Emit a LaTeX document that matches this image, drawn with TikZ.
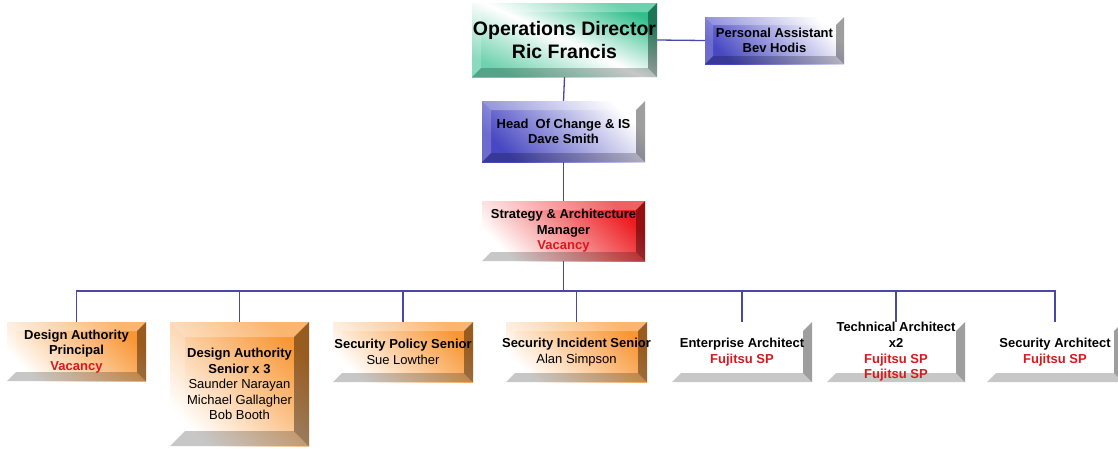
\documentclass[tikz,border=0pt]{standalone}
\usepackage{fontspec}
\setmainfont{Liberation Sans}
\definecolor{linkblue}{RGB}{72,72,170}
\definecolor{orgface}{RGB}{248,150,52}
\definecolor{blueface}{RGB}{72,72,195}
\definecolor{redface}{RGB}{236,28,32}
\definecolor{greenface}{RGB}{48,190,140}
\definecolor{vacred}{RGB}{215,25,30}
\newcommand{\vacant}[1]{\textcolor{vacred}{\textbf{#1}}}

\begin{document}
\begin{tikzpicture}[x=1pt, y=-1pt,
  bevel/.store in=\bev, bevel=9,
  box/.style 2 args={shape=rectangle, inner sep=0pt, minimum width=#1, minimum height=#2,
    path picture={
      \fill[white, opacity=.3] (path picture bounding box.north west) -- ++(\bev pt,-\bev pt)
        -- ([shift={(-\bev pt,-\bev pt)}]path picture bounding box.north east) -- (path picture bounding box.north east) -- cycle;
      \fill[white, opacity=.2] (path picture bounding box.north west) -- ++(\bev pt,-\bev pt)
        -- ([shift={(\bev pt,\bev pt)}]path picture bounding box.south west) -- (path picture bounding box.south west) -- cycle;
      \fill[black, opacity=.38] (path picture bounding box.north east) -- ++(-\bev pt,-\bev pt)
        -- ([shift={(-\bev pt,\bev pt)}]path picture bounding box.south east) -- (path picture bounding box.south east) -- cycle;
      \fill[black, opacity=.22] (path picture bounding box.south west) -- ++(\bev pt,\bev pt)
        -- ([shift={(-\bev pt,\bev pt)}]path picture bounding box.south east) -- (path picture bounding box.south east) -- cycle;
    }},
  boxtext/.style={align=center, inner sep=0pt, font=\fontsize{13}{15.6}\selectfont},
  greenbox/.style={top color=greenface, bottom color=greenface!70, middle color=white, shading angle=-25},
  bluebox/.style={top color=white, bottom color=blueface, shading angle=-45},
  redbox/.style={top color=redface, bottom color=white, shading angle=-45},
  orangebox/.style={top color=orgface, bottom color=white, shading angle=-45},
  whitebox/.style={fill=white},
  link/.style={draw=linkblue, line width=1.3pt}]
  \useasboundingbox (0,0) rectangle (1118,448);

  \node (ops) at (564.5,40) [box={185pt}{74pt}, greenbox,
    label={[boxtext, font=\fontsize{19.5}{23}\selectfont\bfseries]center:{Operations Director\\Ric Francis}}] {};
  \node (pa) at (774.5,40.5) [box={139pt}{47pt}, bluebox, bevel=8,
    label={[boxtext]center:{\textbf{Personal Assistant}\\\textbf{Bev Hodis}}}] {};
  \node (head) at (563.5,131.5) [box={163pt}{61pt}, bluebox,
    label={[boxtext]center:{\textbf{Head~ Of Change \& IS}\\\textbf{Dave Smith}}}] {};
  \node (strat) at (563.5,231) [box={163pt}{60pt}, redbox,
    label={[boxtext]center:{\textbf{Strategy \& Architecture}\\\textbf{Manager}\\\vacant{Vacancy}}}] {};

  \node (dap) at (76.5,351.5) [box={139pt}{59pt}, orangebox,
    label={[boxtext]center:{\textbf{Design Authority}\\\textbf{Principal}\\\vacant{Vacancy}}}] {};
  \node (das) at (239.5,384) [box={139pt}{124pt}, orangebox, bevel=15,
    label={[boxtext]center:{\textbf{Design Authority}\\\textbf{Senior x 3}\\Saunder Narayan\\Michael Gallagher\\Bob Booth}}] {};
  \node (spol) at (403,352) [box={140pt}{60pt}, orangebox,
    label={[boxtext]center:{\textbf{Security Policy Senior}\\Sue Lowther}}] {};
  \node (sinc) at (576.5,352) [box={141pt}{60pt}, orangebox,
    label={[boxtext]center:{\textbf{Security Incident Senior}\\Alan Simpson}}] {};
  \node (ent) at (742,352) [box={140pt}{60pt}, whitebox,
    label={[boxtext]center:{\textbf{Enterprise Architect}\\\vacant{Fujitsu SP}}}] {};
  \node (tech) at (896,352) [box={138pt}{60pt}, whitebox,
    label={[boxtext]center:{\textbf{Technical Architect}\\\textbf{x2}\\\vacant{Fujitsu SP}\\\vacant{Fujitsu SP}}}] {};
  \node (sarch) at (1055,352) [box={136pt}{60pt}, whitebox,
    label={[boxtext]center:{\textbf{Security Architect}\\\vacant{Fujitsu SP}}}] {};

  \coordinate (bus) at (0,291);
  \draw[link] (ops.east) -- (pa.west);
  \draw[link] (ops.south) -- (head.north);
  \draw[link] (head.south) -- (strat.north);
  \foreach \b in {dap,das,spol,sinc,ent,tech,sarch}
    \draw[link] (strat.south) |- (\b.north |- bus) -- (\b.north);
\end{tikzpicture}
\end{document}
